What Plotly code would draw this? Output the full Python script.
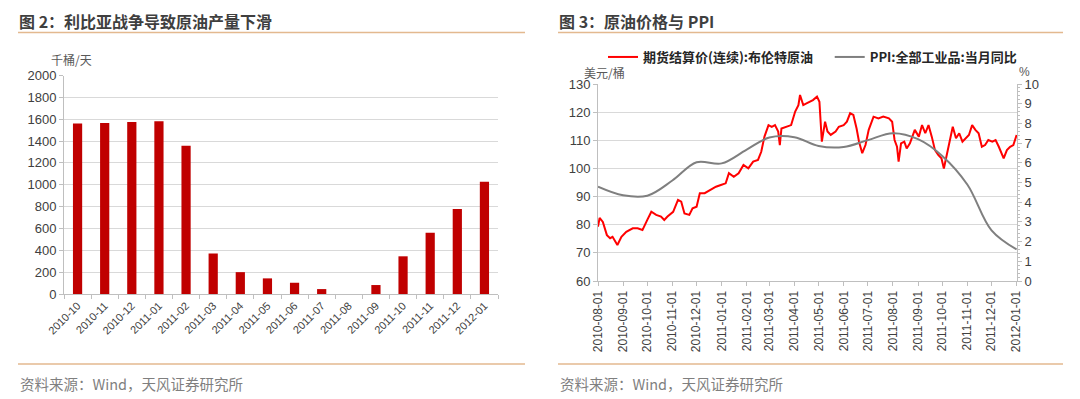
import plotly.graph_objects as go

# page is 1080x399; the html body adds an 8px margin, so the figure is sized to fit
PAGE_OFF = 8
W, H = 1080 - PAGE_OFF, 399 - PAGE_OFF

# ---------------- data ----------------
libya_months = ["2010-10", "2010-11", "2010-12", "2011-01", "2011-02", "2011-03",
                "2011-04", "2011-05", "2011-06", "2011-07", "2011-08", "2011-09",
                "2011-10", "2011-11", "2011-12", "2012-01"]
libya_output = [1560, 1566, 1575, 1582, 1357, 370, 200, 143, 103, 45, 0, 82,
                345, 560, 779, 1027]

brent_dates = [
    "2010-08-01", "2010-08-03", "2010-08-07", "2010-08-12", "2010-08-16", "2010-08-19",
    "2010-08-25", "2010-08-30", "2010-09-05", "2010-09-13", "2010-09-19", "2010-09-25",
    "2010-10-01", "2010-10-06", "2010-10-12", "2010-10-18", "2010-10-22", "2010-10-26",
    "2010-11-02", "2010-11-08", "2010-11-12", "2010-11-16", "2010-11-22", "2010-11-26",
    "2010-12-01", "2010-12-05", "2010-12-11", "2010-12-17", "2010-12-25", "2010-12-31",
    "2011-01-06", "2011-01-10", "2011-01-16", "2011-01-22", "2011-01-26", "2011-01-28",
    "2011-02-03", "2011-02-09", "2011-02-15", "2011-02-19", "2011-02-23", "2011-02-28",
    "2011-03-04", "2011-03-08", "2011-03-12", "2011-03-14", "2011-03-16", "2011-03-22",
    "2011-03-28", "2011-04-02", "2011-04-06", "2011-04-08", "2011-04-12", "2011-04-16",
    "2011-04-20", "2011-04-24", "2011-04-29", "2011-05-02", "2011-05-05", "2011-05-09",
    "2011-05-12", "2011-05-16", "2011-05-22", "2011-05-26", "2011-06-01", "2011-06-05",
    "2011-06-09", "2011-06-13", "2011-06-17", "2011-06-20", "2011-06-24", "2011-06-28",
    "2011-07-02", "2011-07-08", "2011-07-14", "2011-07-20", "2011-07-27", "2011-07-31",
    "2011-08-03", "2011-08-06", "2011-08-08", "2011-08-11", "2011-08-15", "2011-08-18",
    "2011-08-22", "2011-08-28", "2011-09-02", "2011-09-06", "2011-09-10", "2011-09-14",
    "2011-09-18", "2011-09-22", "2011-09-26", "2011-09-30", "2011-10-03", "2011-10-07",
    "2011-10-11", "2011-10-14", "2011-10-18", "2011-10-22", "2011-10-26", "2011-10-30",
    "2011-11-03", "2011-11-07", "2011-11-11", "2011-11-15", "2011-11-19", "2011-11-23",
    "2011-11-27", "2011-12-02", "2011-12-06", "2011-12-10", "2011-12-16", "2011-12-20",
    "2011-12-24", "2011-12-28", "2012-01-01",
]
brent_price = [
    79.3, 82.4, 81.0, 76.3, 75.2, 75.7,
    72.8, 75.7, 77.5, 78.7, 78.7, 78.1,
    81.7, 84.6, 83.5, 82.9, 81.7, 82.9,
    84.6, 88.8, 88.2, 84.0, 83.5, 85.8,
    86.4, 91.2, 91.2, 92.3, 93.5, 94.1,
    94.7, 98.3, 97.0, 98.3, 100.0, 101.2,
    100.0, 102.4, 103.0, 105.9, 111.3, 115.4,
    114.8, 115.4, 113.1, 108.3, 114.2, 114.8,
    115.4, 120.2, 122.5, 126.1, 122.5, 123.1,
    123.7, 124.3, 125.5, 123.7, 109.5, 116.6,
    113.1, 111.9, 113.1, 114.8, 115.4, 116.6,
    119.6, 119.0, 114.2, 109.5, 105.4, 108.3,
    113.7, 118.4, 117.8, 118.4, 117.8, 116.6,
    110.1, 107.7, 102.4, 108.9, 109.5, 107.1,
    108.9, 113.7, 111.3, 115.4, 112.5, 115.4,
    111.3, 106.5, 104.8, 103.6, 100.0, 105.4,
    111.3, 114.8, 110.7, 112.5, 109.5, 110.7,
    111.9, 115.4, 113.7, 112.5, 107.7, 108.3,
    110.1, 109.5, 110.1, 107.7, 103.6, 106.5,
    107.7, 108.3, 111.9,
]

ppi_dates = ["2010-08-01", "2010-09-01", "2010-10-01", "2010-11-01", "2010-12-01",
             "2011-01-01", "2011-02-01", "2011-03-01", "2011-04-01", "2011-05-01",
             "2011-06-01", "2011-07-01", "2011-08-01", "2011-09-01", "2011-10-01",
             "2011-11-01", "2011-12-01", "2012-01-01"]
ppi_yoy = [4.79, 4.35, 4.33, 5.1, 6.03, 5.97, 6.67, 7.28, 7.3, 6.85,
           6.8, 7.15, 7.5, 7.2, 6.35, 4.9, 2.57, 1.6]

# ---------------- styling helpers ----------------
NUM = "Liberation Sans, Arial, Noto Sans CJK SC, sans-serif"
CJK = "Noto Sans CJK SC, Liberation Sans, sans-serif"
TXT = "#404040"
GRID = "#D9D9D9"
AXL = "#BFBFBF"
RULE = "#E3B98F"


def px(x):
    """page x pixel -> paper fraction"""
    return (x - PAGE_OFF) / W


def py(y):
    """page y pixel -> paper fraction"""
    return 1 - (y - PAGE_OFF) / H


fig = go.Figure()

fig.add_trace(go.Bar(
    x=libya_months, y=libya_output, name="<b>产量:原油:利比亚</b>",
    marker=dict(color="#C00000", line=dict(width=0)),
    xaxis="x", yaxis="y", legend="legend",
))
fig.add_trace(go.Scatter(
    x=brent_dates, y=brent_price, mode="lines",
    name="<b>期货结算价(连续):布伦特原油</b>&nbsp;&nbsp;&nbsp;&nbsp;",
    line=dict(color="#FF0000", width=2),
    xaxis="x2", yaxis="y2", legend="legend2",
))
fig.add_trace(go.Scatter(
    x=ppi_dates, y=ppi_yoy, mode="lines",
    name="<b>PPI:全部工业品:当月同比</b>",
    line=dict(color="#7F7F7F", width=2, shape="spline", smoothing=1.0),
    xaxis="x2", yaxis="y3", legend="legend2",
))

fig.update_layout(
    width=W, height=H,
    margin=dict(l=0, r=0, t=0, b=0, autoexpand=False),
    paper_bgcolor="white", plot_bgcolor="white",
    font=dict(family=NUM, size=12, color=TXT),
    bargap=0.66,
    xaxis=dict(
        domain=[px(64), px(498)], anchor="y", type="category", automargin=False,
        tickangle=-45, tickfont=dict(size=11, color=TXT),
        showline=True, linecolor=AXL, linewidth=1,
        ticks="outside", ticklen=4, tickcolor=AXL, tickson="boundaries",
        showgrid=False, zeroline=False,
    ),
    yaxis=dict(
        domain=[py(294), py(75.5)], anchor="x", automargin=False,
        range=[0, 2000], dtick=200, tickfont=dict(size=13, color=TXT),
        showline=True, linecolor=AXL, linewidth=1,
        ticks="outside", ticklen=4, tickcolor=AXL,
        showgrid=True, gridcolor=GRID, gridwidth=1, zeroline=False,
    ),
    xaxis2=dict(
        domain=[px(598), px(1017)], anchor="y2", type="date", automargin=False,
        range=["2010-08-01", "2012-01-01 12:00"],
        tick0="2010-08-01", dtick="M1", tickformat="%Y-%m-%d",
        tickangle=-90, tickfont=dict(size=12, color=TXT),
        showline=True, linecolor=AXL, linewidth=1,
        ticks="outside", ticklen=4, tickcolor=AXL,
        showgrid=False, zeroline=False,
    ),
    yaxis2=dict(
        domain=[py(281), py(84)], anchor="x2", automargin=False,
        range=[60, 130], dtick=10, tickfont=dict(size=13, color=TXT),
        showline=True, linecolor=AXL, linewidth=1,
        ticks="outside", ticklen=4, tickcolor=AXL,
        showgrid=True, gridcolor=GRID, gridwidth=1, zeroline=False,
    ),
    yaxis3=dict(
        overlaying="y2", side="right", anchor="x2", automargin=False,
        range=[0, 10], dtick=1, tickfont=dict(size=13, color=TXT),
        showline=True, linecolor=AXL, linewidth=1,
        ticks="outside", ticklen=4, tickcolor=AXL,
        minor=dict(ticks="outside", dtick=0.2, ticklen=2, tickcolor=AXL),
        showgrid=False, zeroline=False,
    ),
    legend=dict(
        x=px(193), y=py(53), xanchor="left", yanchor="middle",
        orientation="h", bgcolor="rgba(0,0,0,0)",
        font=dict(family=CJK, size=13, color="#262626"),
    ),
    legend2=dict(
        x=px(603), y=py(57), xanchor="left", yanchor="middle",
        orientation="h", bgcolor="rgba(0,0,0,0)", itemwidth=30,
        font=dict(family=CJK, size=13, color="#262626"),
    ),
)

# titles, rules, source notes, unit labels
ann = []
for x0, t in [(18, "图 2：利比亚战争导致原油产量下滑"), (558, "图 3：原油价格与 PPI")]:
    ann.append(dict(x=px(x0), y=py(8), xref="paper", yref="paper",
                    xanchor="left", yanchor="top", showarrow=False,
                    borderpad=0,
                    text="<b>" + t + "</b>",
                    font=dict(family=CJK, size=16, color="#3F3F3F")))
for x0 in (18, 558):
    ann.append(dict(x=px(x0), y=py(383), xref="paper", yref="paper",
                    xanchor="left", yanchor="middle", showarrow=False,
                    text="资料来源：Wind，天风证券研究所",
                    font=dict(family=CJK, size=14.5, color="#7F7F7F")))
ann.append(dict(x=px(71), y=py(59), xref="paper", yref="paper",
                xanchor="center", yanchor="middle", showarrow=False,
                text="千桶/天", font=dict(family=CJK, size=12, color="#595959")))
ann.append(dict(x=px(604), y=py(72), xref="paper", yref="paper",
                xanchor="center", yanchor="middle", showarrow=False,
                text="美元/桶", font=dict(family=CJK, size=12, color="#595959")))
ann.append(dict(x=px(1024), y=py(72), xref="paper", yref="paper",
                xanchor="center", yanchor="middle", showarrow=False,
                text="%", font=dict(family=NUM, size=12, color="#595959")))
fig.update_layout(annotations=ann)

shapes = []
for (x0, x1) in [(18, 525), (558, 1063)]:
    for yy in (32.5, 364):
        shapes.append(dict(type="line", xref="paper", yref="paper",
                           x0=px(x0), x1=px(x1), y0=py(yy), y1=py(yy),
                           line=dict(color=RULE, width=1.5)))
fig.update_layout(shapes=shapes)

fig.write_html("out.html")
